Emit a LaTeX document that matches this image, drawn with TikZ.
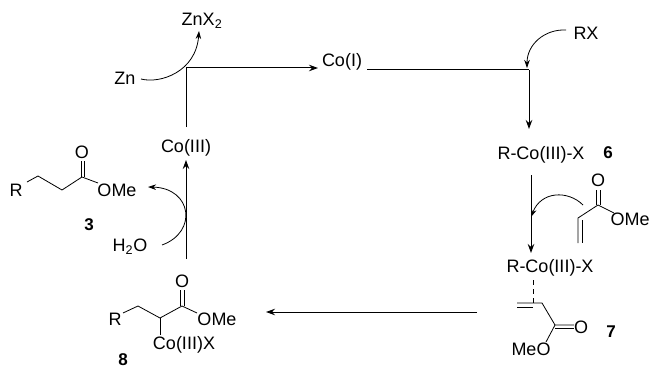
\documentclass[tikz,border=0pt]{standalone}
\usepackage{fontspec}
\setmainfont{Liberation Sans}
\usetikzlibrary{arrows.meta,positioning,calc}

\tikzset{
  chem/.style={font=\fontsize{18}{20}\selectfont, inner sep=1.5pt},
  cmpd/.style={font=\fontsize{17}{20}\selectfont\bfseries, inner sep=1pt},
  rxn/.style={line width=1pt, -{Stealth[length=9pt,width=6.5pt]}},
  curly/.style={line width=0.8pt, -{Stealth[length=8pt,width=5.5pt]}},
  bond/.style={line width=0.8pt},
}

\begin{document}
\begin{tikzpicture}[x=1pt, y=-1pt]
\useasboundingbox (0,0) rectangle (651,369);

% Catalytic cycle: species
\node[chem] (coIII) at (186,148) {Co(III)};
\node[chem] (coI) at (342,62) {Co(I)};
\node[chem] (rcox) at (541,155) {R-Co(III)-X};
\node[cmpd] (six) at (608,153) {6};
\node[chem] (rcoxb) at (550,268) {R-Co(III)-X};
\node[cmpd] (seven) at (611,332) {7};

% Reagents
\node[chem] (zn) at (125,78) {Zn};
\node[chem] (znx) at (202,21) {ZnX\textsubscript{2}};
\node[chem] (rx) at (586,33) {RX};
\node[chem] (water) at (130,247) {H\textsubscript{2}O};

% Corners and free ends of the cycle
\coordinate (cornerA) at (186,68);
\coordinate (cornerB) at (529,70);
\coordinate (longR) at (477,312);
\coordinate (longL) at (266,312);
\coordinate (upB) at (186,259);
\coordinate (upT) at (186,160);
\coordinate (leftB) at (186,127);
\coordinate (topA) at (318,68);
\coordinate (topB) at (367,70);
\coordinate (downA) at (529,129);
\coordinate (downT) at (531,175);
\coordinate (downB) at (531,253);

% Cycle arrows
\draw[line width=1pt] (leftB) -- (cornerA);
\draw[rxn] (cornerA) -- (topA);
\draw[line width=1pt] (topB) -- (cornerB);
\draw[rxn] (cornerB) -- (downA);
\draw[rxn] (upB) -- (upT);
\draw[rxn] (downT) -- (downB);
\draw[rxn] (longR) -- (longL);

% Curved arrows
\draw[curly] (141,79) .. controls (160,84) and (196,72) .. (199,31);
\draw[curly] (566,30) .. controls (545,29) and (527,44) .. (527,68);
\draw[curly] (583,205) .. controls (568,190) and (541,191) .. (531,217);
\draw[curly] (162,245) .. controls (198,232) and (192,188) .. (148,187);

% Product 3
\node[chem] (rA) at (16,190) {R};
\node[chem] (oA) at (82,152) {O};
\node[chem] (omeA) at (117,190) {OMe};
\node[cmpd] (three) at (89,225) {3};
\draw[bond] (27,182) -- (38,176) -- (62,190) -- (82,177) -- (98,183);
\draw[bond] (81,161) -- (81,177) (84,161) -- (84,177);

% Intermediate 8
\node[chem] (rB) at (115,319) {R};
\node[chem] (oB) at (182,281) {O};
\node[chem] (omeB) at (217,319) {OMe};
\node[chem] (coxB) at (184,345) {Co(III)X};
\node[cmpd] (eight) at (123,360) {8};
\draw[bond] (123,313) -- (138,306) -- (160,318) -- (182,306) -- (197,313);
\draw[bond] (160,318) -- (160,335);
\draw[bond] (180,290) -- (180,306) (184,290) -- (184,306);

% Acrylate
\node[chem] (oC) at (598,180) {O};
\node[chem] (omeC) at (630,219) {OMe};
\draw[bond] (614,213) -- (598,205) -- (578,218) -- (578,243);
\draw[bond] (582,220) -- (582,243);
\draw[bond] (596,190) -- (596,205) (600,190) -- (600,205);

% Intermediate 7
\node[chem] (oD) at (581,327) {O};
\node[chem] (meoD) at (531,349) {MeO};
\draw[bond, dash pattern=on 5pt off 4pt] (533,280) -- (533,303);
\draw[bond] (517,303) -- (542,303) -- (555,325) -- (574,325);
\draw[bond] (517,307) -- (533,307);
\draw[bond] (555,328) -- (574,328);
\draw[bond] (555,325) -- (546,342);
\end{tikzpicture}
\end{document}
